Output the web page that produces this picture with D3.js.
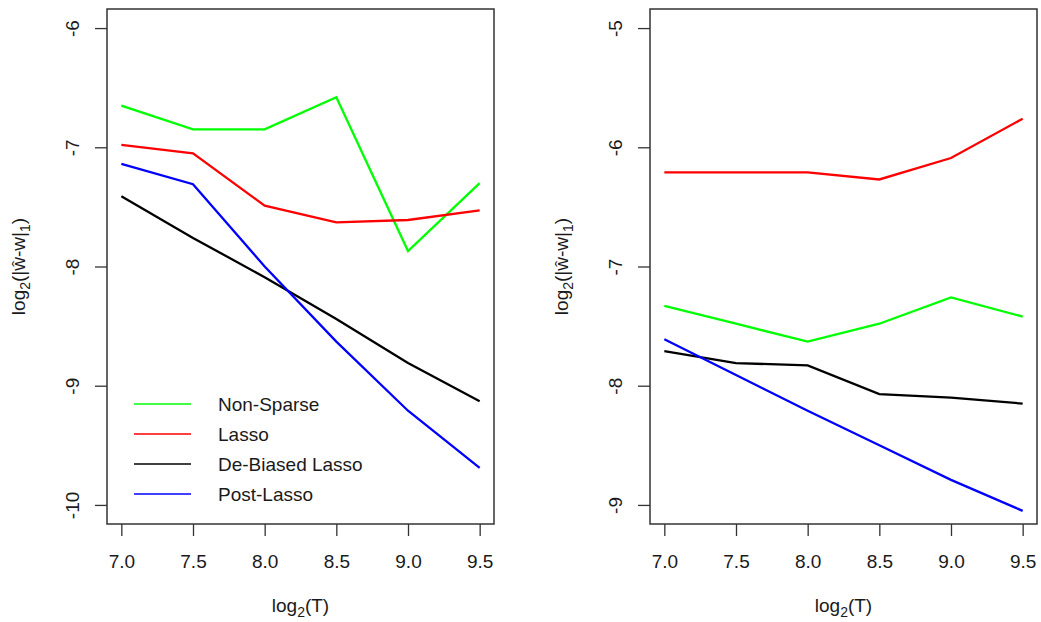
<!DOCTYPE html>
<html>
<head>
<meta charset="utf-8">
<script src="https://cdn.jsdelivr.net/npm/d3@7"></script>
<style>
  body { margin: 0; background: #fff; }
  text { font-family: Arial, "Liberation Sans", sans-serif; fill: #1a1a1a; }
</style>
</head>
<body>
<script>
// x values (log2 T) shared by both panels
var xVals = [7.0, 7.5, 8.0, 8.5, 9.0, 9.5];
var xTicks = [7.0, 7.5, 8.0, 8.5, 9.0, 9.5];

// left panel
var nonSparseL = [-6.65, -6.85, -6.85, -6.58, -7.87, -7.30];
var lassoL = [-6.98, -7.05, -7.49, -7.63, -7.61, -7.53];
var debiasedL = [-7.41, -7.76, -8.09, -8.44, -8.81, -9.13];
var postLassoL = [-7.14, -7.31, -8.00, -8.63, -9.21, -9.69];
var yTicksL = [-6, -7, -8, -9, -10];

// right panel
var nonSparseR = [-7.33, -7.48, -7.63, -7.48, -7.26, -7.42];
var lassoR = [-6.21, -6.21, -6.21, -6.27, -6.09, -5.76];
var debiasedR = [-7.71, -7.81, -7.83, -8.07, -8.10, -8.15];
var postLassoR = [-7.61, -7.91, -8.21, -8.50, -8.79, -9.05];
var yTicksR = [-5, -6, -7, -8, -9];

var seriesNames = ["Non-Sparse", "Lasso", "De-Biased Lasso", "Post-Lasso"];
var seriesColors = ["#00ff00", "#ff0000", "#000000", "#0000ff"];

var width = 1041, height = 622;
// plot box (top/bottom in page pixels), same for both panels
var plotW = 387, plotTop = 9, plotBottom = 524;
var plotH = plotBottom - plotTop;

var svg = d3.select("body").append("svg")
    .attr("width", width)
    .attr("height", height);

function drawPanel(left, ylabX, yTicks, series, legend) {
  // R style 4% padding around the range
  var xLo = 7.0, xHi = 9.5, xPad = (xHi - xLo) * 0.04;
  var yLo = d3.min(yTicks), yHi = d3.max(yTicks), yPad = (yHi - yLo) * 0.04;

  var x = d3.scaleLinear().domain([xLo - xPad, xHi + xPad]).range([0, plotW]);
  var y = d3.scaleLinear().domain([yLo - yPad, yHi + yPad]).range([plotH, 0]);

  var g = svg.append("g").attr("transform", "translate(" + left + "," + plotTop + ")");

  // x axis
  var xAxis = d3.axisBottom(x).tickValues(xTicks).tickFormat(d3.format(".1f"))
      .tickSize(12).tickSizeOuter(0).tickPadding(19);
  var xg = g.append("g").attr("transform", "translate(0," + plotH + ")").call(xAxis);
  xg.select(".domain").remove();
  xg.selectAll(".tick line").attr("stroke", "#333").attr("stroke-width", 1.3);
  xg.selectAll("text").style("font-size", "19px").attr("fill", "#1a1a1a")
      .style("font-family", "Arial, 'Liberation Sans', sans-serif");

  // y axis with rotated labels
  var yAxis = d3.axisLeft(y).tickValues(yTicks).tickFormat(d3.format("d"))
      .tickSize(12).tickSizeOuter(0);
  var yg = g.append("g").call(yAxis);
  yg.select(".domain").remove();
  yg.selectAll(".tick line").attr("stroke", "#333").attr("stroke-width", 1.3);
  yg.selectAll("text")
      .attr("transform", "rotate(-90)")
      .attr("x", 0)
      .attr("y", -28)
      .attr("dy", 0)
      .attr("text-anchor", "middle")
      .attr("fill", "#1a1a1a")
      .style("font-size", "19px")
      .style("font-family", "Arial, 'Liberation Sans', sans-serif")
      .text(function(d) { return String(d); });

  // lines
  var line = d3.line()
      .x(function(d, i) { return x(xVals[i]); })
      .y(function(d) { return y(d); });

  series.forEach(function(s, i) {
    g.append("path")
      .datum(s)
      .attr("d", line)
      .attr("fill", "none")
      .attr("stroke", seriesColors[i])
      .attr("stroke-width", 2.3);
  });

  // box
  g.append("rect")
    .attr("x", 0).attr("y", 0)
    .attr("width", plotW).attr("height", plotH)
    .attr("fill", "none")
    .attr("stroke", "#333")
    .attr("stroke-width", 1.5);

  // x label: log2(T)
  var xl = g.append("text")
    .attr("x", plotW / 2)
    .attr("y", 612 - plotTop)
    .attr("text-anchor", "middle")
    .style("font-size", "19px");
  xl.append("tspan").text("log");
  xl.append("tspan").attr("dy", 5).style("font-size", "14px").text("2");
  xl.append("tspan").attr("dy", -5).text("(T)");

  // y label: log2(|w^-w|1)
  var yl = g.append("text")
    .attr("transform", "translate(" + (ylabX - left) + "," + (plotH / 2) + ") rotate(-90)")
    .attr("text-anchor", "middle")
    .style("font-size", "19px");
  yl.append("tspan").text("log");
  yl.append("tspan").attr("dy", 5).style("font-size", "14px").text("2");
  yl.append("tspan").attr("dy", -5).text("(|\u0175-w|");
  yl.append("tspan").attr("dy", 5).style("font-size", "14px").text("1");
  yl.append("tspan").attr("dy", -5).text(")");

  if (legend) {
    var lg = g.selectAll("g.legend")
      .data(seriesNames)
      .enter().append("g")
      .attr("class", "legend")
      .attr("transform", function(d, i) { return "translate(27," + (395 + i * 30) + ")"; });

    lg.append("line")
      .attr("x1", 0).attr("x2", 57)
      .attr("stroke", function(d, i) { return seriesColors[i]; })
      .attr("stroke-width", 1.3);

    lg.append("text")
      .attr("x", 84)
      .attr("dy", "0.36em")
      .style("font-size", "19px")
      .text(function(d) { return d; });
  }
}

drawPanel(107, 25, yTicksL, [nonSparseL, lassoL, debiasedL, postLassoL], true);
drawPanel(650, 568, yTicksR, [nonSparseR, lassoR, debiasedR, postLassoR], false);
</script>
</body>
</html>
